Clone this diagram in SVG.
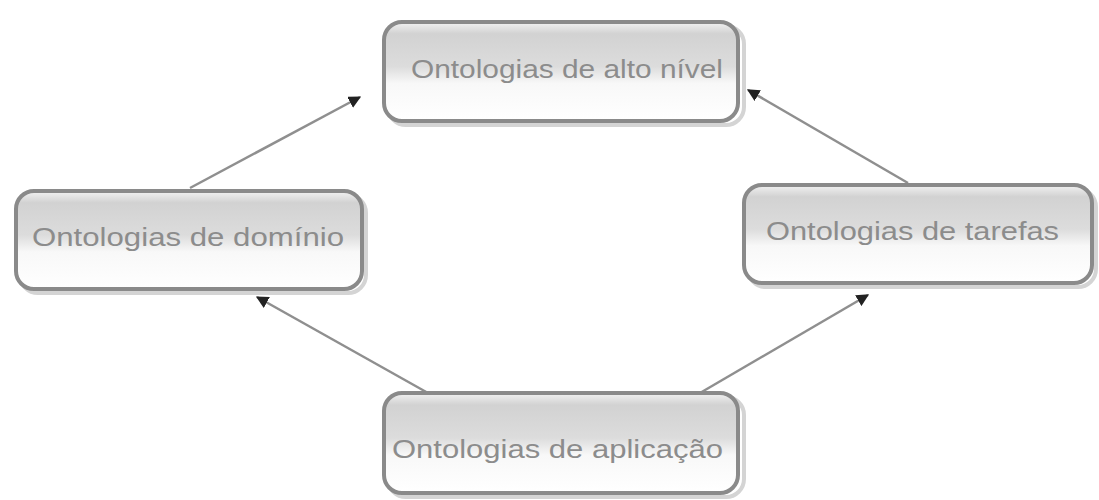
<svg xmlns="http://www.w3.org/2000/svg" width="1099" height="500" viewBox="0 0 1099 500">
  <style>
    .box { fill: url(#gloss); stroke: #8a8a8a; stroke-width: 4; }
    .shadow { fill: none; stroke: #d4d4d4; stroke-width: 4; }
    .label { font-family: "Liberation Sans", Arial, sans-serif; font-size: 26px; fill: #8c8c8c; }
    .link { stroke: #8f8f8f; stroke-width: 2.5; fill: none; marker-end: url(#tip); }
  </style>
  <defs>
    <linearGradient id="gloss" x1="0" y1="0" x2="0" y2="1">
      <stop offset="0" stop-color="#f2f2f2"/>
      <stop offset="0.12" stop-color="#d2d2d2"/>
      <stop offset="0.45" stop-color="#dcdcdc"/>
      <stop offset="0.62" stop-color="#f8f8f8"/>
      <stop offset="1" stop-color="#ffffff"/>
    </linearGradient>
    <marker id="tip" viewBox="0 0 10 10" refX="9" refY="5" markerWidth="5" markerHeight="5" orient="auto" markerUnits="strokeWidth">
      <path d="M0,0 L10,5 L0,10 z" fill="#222"/>
    </marker>
  </defs>

  <rect width="1099" height="500" fill="#ffffff"/>

  <g id="connectors">
    <line class="link" x1="190" y1="188" x2="360" y2="97"/>
    <line class="link" x1="908" y1="183" x2="748" y2="90"/>
    <line class="link" x1="428" y1="393" x2="257" y2="297"/>
    <line class="link" x1="700" y1="393" x2="868" y2="295"/>
  </g>

  <g id="node-alto-nivel">
    <rect class="shadow" x="388" y="26" width="356" height="99" rx="18"/>
    <rect class="box" x="384" y="22" width="354" height="99" rx="18"/>
    <text class="label" x="411" y="78" textLength="312" lengthAdjust="spacingAndGlyphs">Ontologias de alto nível</text>
  </g>

  <g id="node-dominio">
    <rect class="shadow" x="20" y="195" width="346" height="98" rx="18"/>
    <rect class="box" x="16" y="191" width="346" height="98" rx="18"/>
    <text class="label" x="32" y="246" textLength="312" lengthAdjust="spacingAndGlyphs">Ontologias de domínio</text>
  </g>

  <g id="node-tarefas">
    <rect class="shadow" x="748" y="189" width="348" height="98" rx="18"/>
    <rect class="box" x="744" y="185" width="348" height="98" rx="18"/>
    <text class="label" x="766" y="240" textLength="293" lengthAdjust="spacingAndGlyphs">Ontologias de tarefas</text>
  </g>

  <g id="node-aplicacao">
    <rect class="shadow" x="388" y="397" width="356" height="100" rx="18"/>
    <rect class="box" x="384" y="393" width="354" height="100" rx="18"/>
    <text class="label" x="392" y="458" textLength="331" lengthAdjust="spacingAndGlyphs">Ontologias de aplicação</text>
  </g>
</svg>
